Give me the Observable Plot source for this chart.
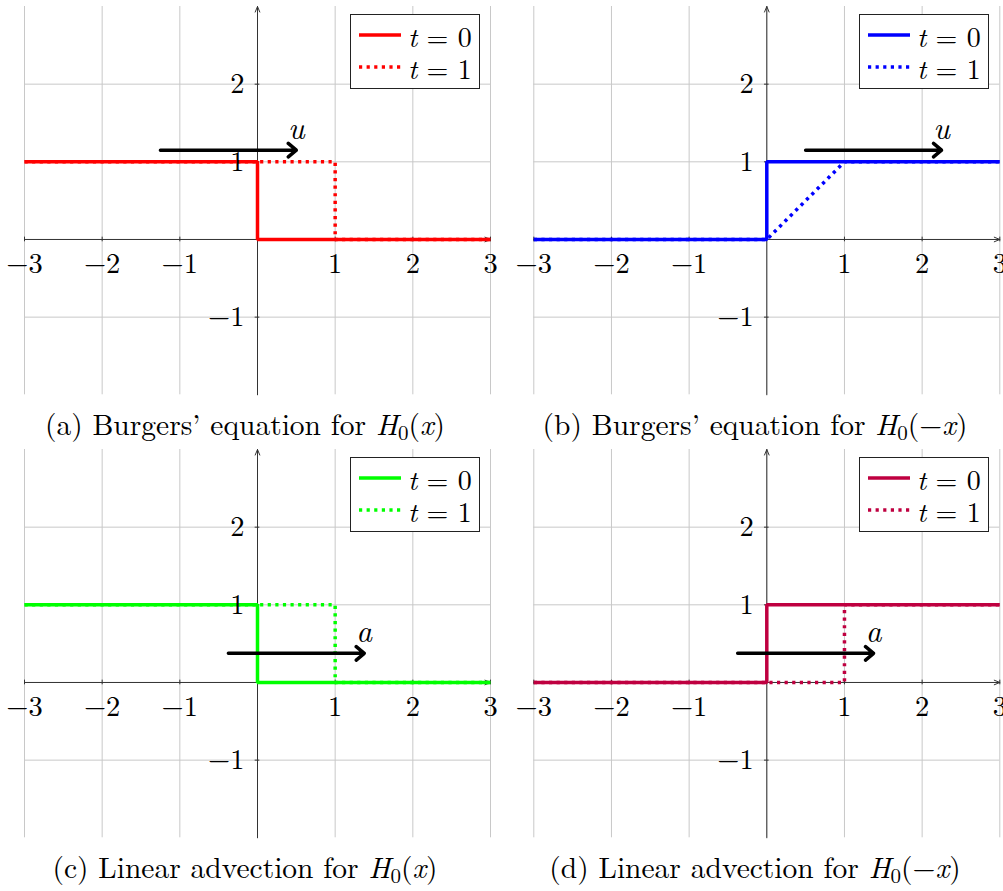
<!DOCTYPE html>
<html>
<head>
<meta charset="utf-8">
<script src="https://cdn.jsdelivr.net/npm/d3@7"></script>
<script src="https://cdn.jsdelivr.net/npm/@observablehq/plot@0.6"></script>
<style>
  html, body { margin: 0; padding: 0; background: #fff; overflow: hidden; }
  #root { position: relative; width: 1003px; height: 891px; font-family: 'Latin Modern Roman','CMU Serif','Liberation Serif',serif; color: #000; }
  .panel { position: absolute; }
  .caption { position: absolute; text-align: center; font-size: 29.5px; line-height: 34px; white-space: nowrap; }
  .caption sub { font-size: 21px; vertical-align: -5px; line-height: 0; }
  .legend { position: absolute; width: 128px; height: 73px; border: 1px solid #222; background: #fff; }
  .legend .row { position: absolute; left: 8px; height: 30px; display: flex; align-items: center; font-size: 28px; white-space: nowrap; }
  .legend svg { margin-right: 7px; }
</style>
</head>
<body>
<div id="root"></div>
<script>
// ---------- data ----------
const xDomain = [-3, 3];
const yDomain = [-2, 3];
const gridX = [-3, -2, -1, 0, 1, 2, 3];
const gridY = [-1, 0, 1, 2];
const xTicks = [-3, -2, -1, 1, 2, 3];
const xTickLabels = ["−3", "−2", "−1", "1", "2", "3"];
const yTicks = [-1, 1, 2];
const yTickLabels = ["−1", "1", "2"];

// step down H0(x) at t = 0
const stepDownX0 = [-3, 0, 0, 3];
const stepDownY0 = [1, 1, 0, 0];
// shifted step down at t = 1 (shock / advection)
const stepDownX1 = [-3, 1, 1, 3];
const stepDownY1 = [1, 1, 0, 0];
// step up H0(-x) at t = 0
const stepUpX0 = [-3, 0, 0, 3];
const stepUpY0 = [0, 0, 1, 1];
// rarefaction fan at t = 1 (Burgers)
const rarefactionX1 = [-3, 0, 1, 3];
const rarefactionY1 = [0, 0, 1, 1];
// shifted step up at t = 1 (advection)
const stepUpX1 = [-3, 1, 1, 3];
const stepUpY1 = [0, 0, 1, 1];

const seriesT0X = [stepDownX0, stepUpX0, stepDownX0, stepUpX0];
const seriesT0Y = [stepDownY0, stepUpY0, stepDownY0, stepUpY0];
const seriesT1X = [stepDownX1, rarefactionX1, stepDownX1, stepUpX1];
const seriesT1Y = [stepDownY1, rarefactionY1, stepDownY1, stepUpY1];

const arrowStartX = [-1.25, 0.5, -0.375, -0.375];
const arrowEndX = [0.5, 2.25, 1.375, 1.375];
const arrowY = [1.15, 1.15, 0.375, 0.375];
const arrowLabels = ["u", "u", "a", "a"];
const panelColors = ["#ff0000", "#0000ff", "#00ff00", "#bf0040"];
const legendLabels = ["0", "1"];
const captionLetters = ["a", "b", "c", "d"];
const captionTitles = ["Burgers’ equation for", "Burgers’ equation for", "Linear advection for", "Linear advection for"];
const captionArgs = ["<i>x</i>", "−<i>x</i>", "<i>x</i>", "−<i>x</i>"];

// ---------- layout ----------
const layout = [
  {left: 0,   top: 0,   width: 500, ml: 24,   mr: 10,  legL: 350, legT: 14,  capL: 0,   capW: 490, capT: 406},
  {left: 500, top: 0,   width: 503, ml: 33.3, mr: 3.7, legL: 859, legT: 14,  capL: 500, capW: 510, capT: 406},
  {left: 0,   top: 443, width: 500, ml: 24,   mr: 10,  legL: 350, legT: 457, capL: 0,   capW: 490, capT: 849},
  {left: 500, top: 443, width: 503, ml: 33.3, mr: 3.7, legL: 859, legT: 457, capL: 500, capW: 510, capT: 849}
];
const FONT = "'Latin Modern Roman','CMU Serif','Liberation Serif',serif";
const DOTS = "3.2,4.4";
const tickHalf = 0.03;

const root = document.getElementById("root");

for (let i = 0; i < 4; i++) {
  const L = layout[i];
  const color = panelColors[i];
  const d0 = seriesT0X[i].map((x, j) => ({x, y: seriesT0Y[i][j]}));
  const d1 = seriesT1X[i].map((x, j) => ({x, y: seriesT1Y[i][j]}));
  const axes = [
    {x1: xDomain[0], y1: 0, x2: xDomain[1], y2: 0},
    {x1: 0, y1: yDomain[0], x2: 0, y2: yDomain[1]}
  ];
  const arrow = [{x1: arrowStartX[i], x2: arrowEndX[i], y: arrowY[i], label: arrowLabels[i]}];

  const chart = Plot.plot({
    width: L.width,
    height: 410,
    marginLeft: L.ml,
    marginRight: L.mr,
    marginTop: 6,
    marginBottom: 15.7,
    x: {domain: xDomain, axis: null},
    y: {domain: yDomain, axis: null},
    style: {overflow: "visible", background: "transparent", fontFamily: FONT},
    marks: [
      Plot.ruleX(gridX, {x: d => d, stroke: "#c8c8c8", strokeWidth: 1}),
      Plot.ruleY(gridY, {y: d => d, stroke: "#c8c8c8", strokeWidth: 1}),
      Plot.arrow(axes, {x1: "x1", y1: "y1", x2: "x2", y2: "y2", stroke: "#333", strokeWidth: 1, headLength: 9, headAngle: 45}),
      Plot.ruleX(xTicks, {x: d => d, y1: -tickHalf, y2: tickHalf, stroke: "#333", strokeWidth: 1}),
      Plot.ruleY(yTicks, {y: d => d, x1: -tickHalf, x2: tickHalf, stroke: "#333", strokeWidth: 1}),
      Plot.line(d0, {x: "x", y: "y", stroke: color, strokeWidth: 3.5, strokeLinejoin: "miter", strokeLinecap: "butt"}),
      Plot.line(d1, {x: "x", y: "y", stroke: color, strokeWidth: 3.5, strokeDasharray: DOTS, strokeLinejoin: "miter", strokeLinecap: "butt"}),
      Plot.text(xTicks, {x: d => d, y: 0, text: (d, j) => xTickLabels[j], dy: 24, fontSize: 28.5, fill: "black"}),
      Plot.text(yTicks, {x: 0, y: d => d, text: (d, j) => yTickLabels[j], dx: -13, textAnchor: "end", fontSize: 28.5, fill: "black"}),
      Plot.arrow(arrow, {x1: "x1", y1: "y", x2: "x2", y2: "y", stroke: "black", strokeWidth: 3.5, headLength: 4.5, headAngle: 80}),
      Plot.text(arrow, {x: "x2", y: "y", text: "label", dy: -21, fontSize: 31, fontStyle: "italic", fill: "black"})
    ]
  });
  const wrap = document.createElement("div");
  wrap.className = "panel";
  wrap.style.left = L.left + "px";
  wrap.style.top = L.top + "px";
  wrap.appendChild(chart);
  root.appendChild(wrap);

  // legend
  const leg = document.createElement("div");
  leg.className = "legend";
  leg.style.left = L.legL + "px";
  leg.style.top = L.legT + "px";
  legendLabels.forEach((lab, k) => {
    const row = document.createElement("div");
    row.className = "row";
    row.style.top = (k === 0 ? 5 : 37) + "px";
    const dash = k === 0 ? "" : `stroke-dasharray="${DOTS}"`;
    row.innerHTML = `<svg width="42" height="8"><line x1="0" y1="4" x2="42" y2="4" stroke="${color}" stroke-width="3.5" ${dash}/></svg><span><i>t</i> = ${lab}</span>`;
    leg.appendChild(row);
  });
  root.appendChild(leg);

  // caption
  const cap = document.createElement("div");
  cap.className = "caption";
  cap.style.left = L.capL + "px";
  cap.style.width = L.capW + "px";
  cap.style.top = L.capT + "px";
  cap.innerHTML = `(${captionLetters[i]}) ${captionTitles[i]} <i>H</i><sub>0</sub>(${captionArgs[i]})`;
  root.appendChild(cap);
}
</script>
</body>
</html>
